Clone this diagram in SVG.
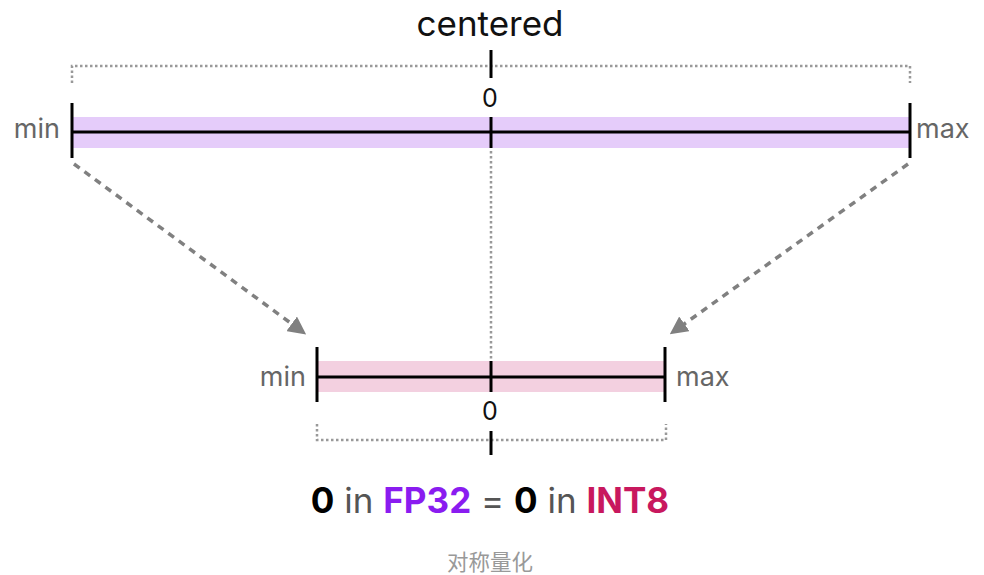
<svg xmlns="http://www.w3.org/2000/svg" width="984" height="575" viewBox="0 0 984 575">
<defs>
<style>
.lbl{font-family:Inter,"Noto Sans","Liberation Sans",sans-serif;fill:#666;font-size:27px}
.zero{font-family:Inter,"Noto Sans","Liberation Sans",sans-serif;fill:#111;font-size:25px;text-anchor:middle}
.axis{stroke:#000;stroke-width:3;fill:none}
.dot{stroke:#999;stroke-width:2.5;stroke-dasharray:2.5 2.5;fill:none}
.arrow{stroke:#808080;stroke-width:3.5;stroke-dasharray:7 6;fill:none}
</style>
<marker id="ah" viewBox="0 0 10 10" refX="3" refY="5" markerWidth="18" markerHeight="18" markerUnits="userSpaceOnUse" orient="auto">
<path d="M0,0 L10,5 L0,10 Z" fill="#808080"/>
</marker>
</defs>
<rect width="984" height="575" fill="#fff"/>
<text x="490" y="36" font-family="Inter,'Noto Sans','Liberation Sans',sans-serif" font-size="35" text-anchor="middle" fill="#111">centered</text>

<g id="fp32">
<rect x="72" y="117" width="838" height="31" fill="#e5ccfa"/>
<path class="dot" d="M72,83 V66 H910 V83"/>
<line class="axis" x1="491" y1="50" x2="491" y2="78"/>
<line class="axis" x1="72" y1="132" x2="910" y2="132"/>
<line class="axis" x1="72" y1="103" x2="72" y2="158"/>
<line class="axis" x1="910" y1="103" x2="910" y2="158"/>
<line class="axis" x1="491" y1="117" x2="491" y2="148"/>
<text class="zero" x="490" y="107">0</text>
<text class="lbl" x="60" y="138" text-anchor="end">min</text>
<text class="lbl" x="916" y="138">max</text>
</g>

<g id="int8">
<rect x="317" y="361" width="348" height="31" fill="#f3d0e0"/>
<path class="dot" d="M317,424 V440 H666 V424"/>
<line class="axis" x1="491" y1="431" x2="491" y2="455"/>
<line class="axis" x1="317" y1="377" x2="665" y2="377"/>
<line class="axis" x1="317" y1="347" x2="317" y2="402"/>
<line class="axis" x1="665" y1="347" x2="665" y2="402"/>
<line class="axis" x1="491" y1="361" x2="491" y2="392"/>
<text class="zero" x="490" y="420">0</text>
<text class="lbl" x="306" y="386" text-anchor="end">min</text>
<text class="lbl" x="676" y="386">max</text>
</g>

<g id="connectors">
<line class="dot" x1="491" y1="151" x2="491" y2="360"/>
<line class="arrow" x1="74" y1="164" x2="296" y2="327" marker-end="url(#ah)"/>
<line class="arrow" x1="908" y1="164" x2="680" y2="327" marker-end="url(#ah)"/>
</g>

<text x="490" y="513" font-family="Inter,'Noto Sans','Liberation Sans',sans-serif" font-size="35" text-anchor="middle" fill="#555"><tspan font-weight="bold" fill="#000">0</tspan> in <tspan font-weight="bold" fill="#8a1cf0">FP32</tspan> = <tspan font-weight="bold" fill="#000">0</tspan> in <tspan font-weight="bold" fill="#c8185e">INT8</tspan></text>
<text x="490" y="570" font-family="Inter,'Noto Sans CJK SC',sans-serif" font-size="21.5" text-anchor="middle" fill="#999">对称量化</text>
</svg>
